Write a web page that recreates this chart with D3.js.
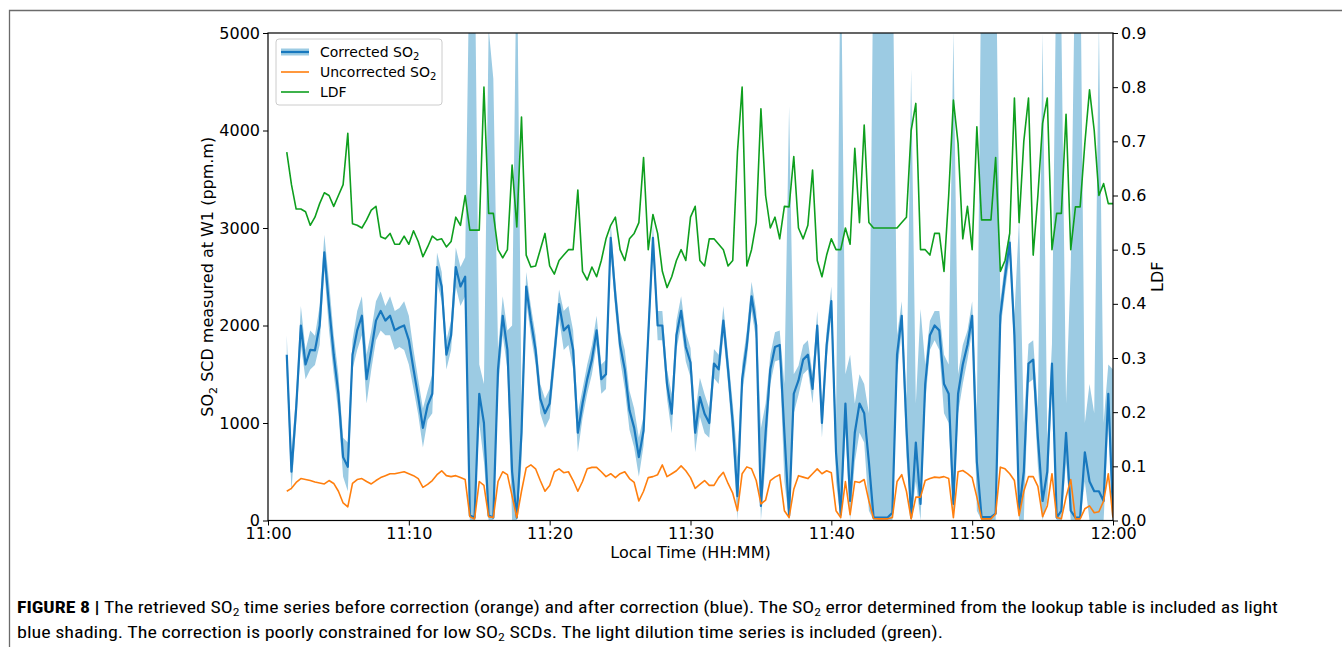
<!DOCTYPE html>
<html lang="en">
<head>
<meta charset="UTF-8">
<title>SO2 time series</title>
<script src="https://cdn.jsdelivr.net/npm/d3@7"></script>
<style>
  body { margin: 0; background: #fff; }
  svg text { font-family: "DejaVu Sans", sans-serif; fill: #000; }
  .caption text { font-family: "Liberation Sans Narrow", "Arial Narrow", "Roboto Condensed", "Liberation Sans", sans-serif; }
</style>
</head>
<body>
<svg id="chart" width="1342" height="647"></svg>
<script>
// sampling: first sample at 11:01:20, one sample every 20 s
var startTime = '11:01:20'
var stepSeconds = 20

// corrected SO2 (ppm.m)
var corrected = [1700,500,1150,2000,1600,1750,1745,2000,2750,2200,1700,1300,650,550,1700,1950,2100,1450,1745,2050,
  2150,2050,2100,1950,1980,2000,1850,1550,1265,950,1180,1300,2600,2400,1700,1900,2600,2400,2500,50,
  30,1300,1000,50,30,1550,2100,1750,500,30,900,2400,2050,1750,1250,1100,1200,1700,2220,1950,
  2000,1750,900,1200,1450,1650,1950,1450,1500,2900,2300,1800,1550,1130,950,650,920,1900,2900,2000,
  2000,1400,1095,1900,2150,1780,1620,900,1265,1095,1000,1610,1550,2050,1550,1000,250,1450,1800,2300,
  2000,150,900,1550,1780,1800,900,50,1300,1436,1650,1700,1350,2000,1000,1800,2250,700,60,1200,
  200,900,1200,1100,600,30,30,30,30,80,1700,2100,950,30,800,170,1400,1900,2000,1950,
  1400,1300,170,1300,1600,1800,2100,600,35,35,35,70,2100,2500,2850,1900,100,500,1610,1650,
  850,200,500,1610,30,100,900,100,30,30,700,400,300,300,200,1300,50]

// error of the corrected SO2 from the lookup table (half width, ppm.m)
var correctedErr = [200,200,150,200,150,200,150,200,180,250,200,200,200,250,150,200,200,250,200,200,
  200,150,200,200,200,250,250,200,180,200,150,200,150,150,150,150,200,200,200,6000,
  6000,300,400,5000,4500,200,200,200,1500,6000,300,150,150,150,150,150,150,150,150,200,
  200,200,200,150,150,150,150,150,150,150,150,150,200,200,200,200,150,150,150,150,
  150,150,200,150,150,150,150,200,200,200,150,150,150,150,150,200,400,150,150,150,
  150,800,300,150,150,150,500,4200,200,150,150,150,150,150,150,150,150,300,6000,300,
  1500,300,300,300,500,6000,6000,6000,6000,6000,200,150,300,4600,400,2000,200,150,150,200,
  300,300,4850,200,200,150,150,500,6000,6000,6000,6000,150,150,150,200,3000,500,200,200,
  300,4800,300,200,6000,5000,300,2500,6000,6000,300,1000,800,4800,800,300,1500]

// uncorrected SO2 (ppm.m)
var uncorrected = [300,330,390,430,420,410,395,385,375,410,380,300,180,140,380,420,430,400,375,410,
  440,460,480,480,490,500,480,460,430,340,370,410,470,510,460,450,460,440,420,40,
  15,400,360,40,30,400,500,470,250,30,300,540,570,530,410,300,360,500,530,490,
  500,410,300,400,530,545,545,500,450,480,440,480,500,430,390,200,300,440,450,470,
  570,450,480,510,560,510,440,330,370,410,360,360,440,495,380,280,100,480,550,530,
  410,170,210,410,445,470,100,30,320,460,445,430,480,530,480,510,490,100,30,400,
  60,400,390,420,200,20,17,17,17,30,400,470,300,17,240,240,410,430,445,440,
  450,430,30,500,513,480,440,240,17,17,17,70,547,530,480,410,50,300,450,450,
  350,40,150,480,30,17,240,420,17,17,120,150,80,90,200,480,30]

// light dilution factor
var ldf = [0.68,0.62,0.575,0.575,0.57,0.545,0.56,0.585,0.605,0.6,0.58,0.6,0.62,0.715,0.548,0.545,0.54,0.555,0.573,0.58,
  0.524,0.52,0.53,0.51,0.51,0.525,0.51,0.535,0.515,0.487,0.505,0.525,0.518,0.52,0.505,0.515,0.56,0.545,0.6,0.536,
  0.536,0.536,0.8,0.567,0.567,0.5,0.485,0.5,0.656,0.542,0.745,0.49,0.468,0.47,0.5,0.53,0.47,0.455,0.48,0.49,
  0.5,0.5,0.61,0.46,0.444,0.468,0.45,0.48,0.52,0.545,0.56,0.5,0.48,0.52,0.53,0.55,0.67,0.5,0.565,0.53,
  0.46,0.43,0.45,0.48,0.5,0.48,0.56,0.58,0.48,0.47,0.52,0.52,0.51,0.5,0.47,0.48,0.68,0.8,0.47,0.5,
  0.55,0.76,0.6,0.54,0.56,0.52,0.58,0.579,0.672,0.54,0.52,0.545,0.647,0.48,0.45,0.49,0.52,0.5,0.5,0.54,
  0.51,0.687,0.55,0.73,0.55,0.54,0.54,0.54,0.54,0.54,0.54,0.55,0.56,0.72,0.77,0.5,0.5,0.49,0.53,0.53,
  0.46,0.6,0.776,0.696,0.52,0.58,0.5,0.727,0.555,0.555,0.555,0.67,0.46,0.48,0.53,0.78,0.55,0.7,0.78,0.49,
  0.6,0.733,0.78,0.5,0.567,0.567,0.75,0.5,0.579,0.579,0.696,0.795,0.72,0.6,0.622,0.585,0.585]

var so2Ticks = [0, 1000, 2000, 3000, 4000, 5000]
var ldfTicks = [0.0, 0.1, 0.2, 0.3, 0.4, 0.5, 0.6, 0.7, 0.8, 0.9]
var timeTicks = ['11:00', '11:10', '11:20', '11:30', '11:40', '11:50', '12:00']

var parseTime = d3.timeParse('%H:%M:%S')
var t0 = parseTime(startTime)
var rows = corrected.map(function (v, i) {
    return {
        t: d3.timeSecond.offset(t0, i * stepSeconds),
        so2: v, err: correctedErr[i], raw: uncorrected[i], ldf: ldf[i]
    }
})

var plotLeft = 268, plotRight = 1113, plotTop = 33, plotBottom = 520.5
var bandColor = '#9ccbe3', so2Color = '#1878be', rawColor = '#ff7f0e', ldfColor = '#0e9f1e'

var x = d3.scaleTime()
    .domain([parseTime('11:00:00'), parseTime('12:00:00')])
    .range([plotLeft, plotRight])
var y = d3.scaleLinear().domain([0, 5000]).range([plotBottom, plotTop])
var y2 = d3.scaleLinear().domain([0, 0.9]).range([plotBottom, plotTop])

var svg = d3.select('#chart')

// page frame
svg.append('path').attr('d', 'M9.5,647 V10.5 H1342')
    .attr('fill', 'none').attr('stroke', '#6b6b6b').attr('stroke-width', 1.3)

svg.append('clipPath').attr('id', 'plotClip')
    .append('rect').attr('x', plotLeft).attr('y', plotTop)
    .attr('width', plotRight - plotLeft).attr('height', plotBottom - plotTop)

var plot = svg.append('g').attr('clip-path', 'url(#plotClip)')

// error band
plot.append('path').datum(rows)
    .attr('fill', bandColor)
    .attr('d', d3.area()
        .x(function (d) { return x(d.t) })
        .y0(function (d) { return y(Math.max(0, d.so2 - d.err)) })
        .y1(function (d) { return y(d.so2 + d.err) }))

function linePath(acc, scale) {
    return d3.line().x(function (d) { return x(d.t) }).y(function (d) { return scale(acc(d)) })
}

plot.append('path').datum(rows)
    .attr('fill', 'none').attr('stroke', so2Color).attr('stroke-width', 2.2)
    .attr('stroke-linejoin', 'round')
    .attr('d', linePath(function (d) { return d.so2 }, y))

plot.append('path').datum(rows)
    .attr('fill', 'none').attr('stroke', rawColor).attr('stroke-width', 1.6)
    .attr('stroke-linejoin', 'round')
    .attr('d', linePath(function (d) { return d.raw }, y))

plot.append('path').datum(rows)
    .attr('fill', 'none').attr('stroke', ldfColor).attr('stroke-width', 1.6)
    .attr('stroke-linejoin', 'round')
    .attr('d', linePath(function (d) { return d.ldf }, y2))

// axes
var axisLeft = d3.axisLeft(y).tickValues(so2Ticks).tickSize(5).tickPadding(3).tickFormat(d3.format('d'))
var axisRight = d3.axisRight(y2).tickValues(ldfTicks).tickSize(5).tickPadding(3).tickFormat(d3.format('.1f'))
var axisBottom = d3.axisBottom(x)
    .tickValues(timeTicks.map(function (s) { return parseTime(s + ':00') }))
    .tickSize(5).tickPadding(2).tickFormat(d3.timeFormat('%H:%M'))

function styleAxis(g) {
    g.select('.domain').remove()
    g.selectAll('line').attr('stroke', '#000').attr('stroke-width', 1)
    g.selectAll('text').attr('font-size', 16).attr('fill', '#000')
}
svg.append('g').attr('transform', 'translate(' + plotLeft + ',0)').call(axisLeft).call(styleAxis)
svg.append('g').attr('transform', 'translate(' + plotRight + ',0)').call(axisRight).call(styleAxis)
svg.append('g').attr('transform', 'translate(0,' + plotBottom + ')').call(axisBottom).call(styleAxis)

svg.append('rect').attr('x', plotLeft).attr('y', plotTop)
    .attr('width', plotRight - plotLeft).attr('height', plotBottom - plotTop)
    .attr('fill', 'none').attr('stroke', '#000').attr('stroke-width', 1.2)

// axis titles
svg.append('text').attr('x', (plotLeft + plotRight) / 2).attr('y', 558)
    .attr('text-anchor', 'middle').attr('font-size', 16).text('Local Time (HH:MM)')

var yl = svg.append('text').attr('transform', 'translate(213,' + ((plotTop + plotBottom) / 2) + ') rotate(-90)')
    .attr('text-anchor', 'middle').attr('font-size', 16)
yl.append('tspan').text('SO')
yl.append('tspan').attr('font-size', 11).attr('dy', 4).text('2')
yl.append('tspan').attr('dy', -4).text(' SCD measured at W1 (ppm.m)')

svg.append('text').attr('transform', 'translate(1163,' + ((plotTop + plotBottom) / 2) + ') rotate(-90)')
    .attr('text-anchor', 'middle').attr('font-size', 16).text('LDF')

// legend
var legend = svg.append('g')
legend.append('rect').attr('x', 276).attr('y', 39).attr('width', 166).attr('height', 66)
    .attr('rx', 3).attr('fill', '#fff').attr('fill-opacity', 0.8).attr('stroke', '#cccccc')
var legendItems = [
    {label: 'Corrected SO', sub: '2', color: so2Color, band: true},
    {label: 'Uncorrected SO', sub: '2', color: rawColor},
    {label: 'LDF', sub: '', color: ldfColor}
]
legendItems.forEach(function (d, i) {
    var cy = 52 + i * 20
    if (d.band) {
        legend.append('line').attr('x1', 281).attr('x2', 309).attr('y1', cy).attr('y2', cy)
            .attr('stroke', bandColor).attr('stroke-width', 7)
    }
    legend.append('line').attr('x1', 281).attr('x2', 309).attr('y1', cy).attr('y2', cy)
        .attr('stroke', d.color).attr('stroke-width', d.band ? 2.2 : 1.6)
    var t = legend.append('text').attr('x', 320).attr('y', cy + 5).attr('font-size', 14)
    t.append('tspan').text(d.label)
    if (d.sub) t.append('tspan').attr('font-size', 10).attr('dy', 3).text(d.sub)
})

// caption
var cap = svg.append('g').attr('class', 'caption')
var line1 = cap.append('text').attr('x', 17).attr('y', 613).attr('font-size', 16)
    .attr('textLength', 1261).attr('lengthAdjust', 'spacingAndGlyphs')
line1.append('tspan').attr('font-weight', 'bold').text('FIGURE 8 | ')
line1.append('tspan').text('The retrieved SO')
line1.append('tspan').attr('font-size', 11).attr('dy', 3).text('2')
line1.append('tspan').attr('dy', -3).text(' time series before correction (orange) and after correction (blue). The SO')
line1.append('tspan').attr('font-size', 11).attr('dy', 3).text('2')
line1.append('tspan').attr('dy', -3).text(' error determined from the lookup table is included as light')

var line2 = cap.append('text').attr('x', 17).attr('y', 638).attr('font-size', 16)
    .attr('textLength', 926).attr('lengthAdjust', 'spacingAndGlyphs')
line2.append('tspan').text('blue shading. The correction is poorly constrained for low SO')
line2.append('tspan').attr('font-size', 11).attr('dy', 3).text('2')
line2.append('tspan').attr('dy', -3).text(' SCDs. The light dilution time series is included (green).')
</script>
</body>
</html>
